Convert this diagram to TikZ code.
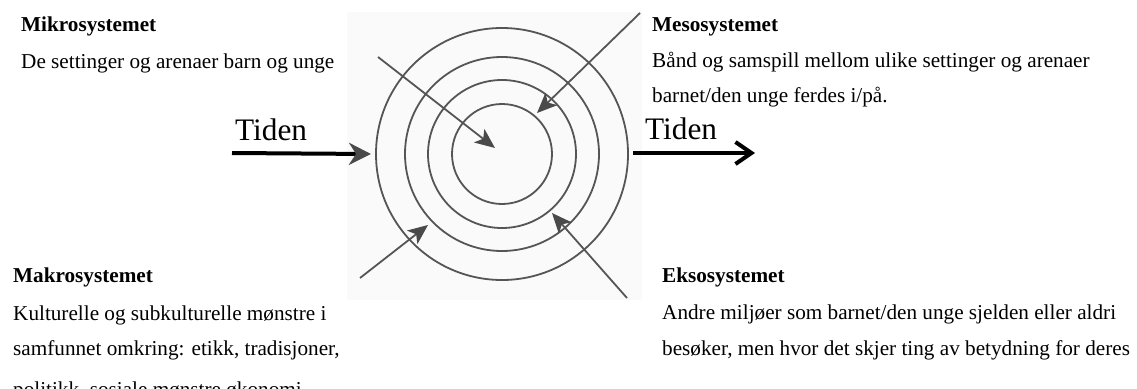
\documentclass[tikz,border=0pt]{standalone}
\usepackage{fontspec}
\setmainfont{Liberation Serif}
\usepackage{tikz}
\usetikzlibrary{arrows.meta}
\definecolor{RingGray}{HTML}{555555}
\definecolor{HeadGray}{HTML}{4A4A4A}
\definecolor{PhotoBg}{HTML}{FAFAFA}

\begin{document}
\begin{tikzpicture}[x=1pt, y=-1pt,
  txt/.style={anchor=base west, inner sep=0pt, font=\fontsize{21.2}{25}\selectfont},
  head/.style={txt, font=\fontsize{21.2}{25}\selectfont\bfseries},
  tid/.style={anchor=base west, inner sep=0pt, font=\fontsize{31.3}{36}\selectfont},
  ring/.style={draw=RingGray, line width=1.8pt},
  pil/.style={draw=RingGray, line width=1.8pt, -{Stealth[length=20pt, width=17pt, inset=5pt, color=HeadGray]}},
  tidpil/.style={line width=4pt}]
\useasboundingbox (0,0) rectangle (1137,388);
\fill[PhotoBg] (347,12) rectangle (642,300);
% ringene
\coordinate (mid) at (502,154);
\draw[ring] (mid) circle[radius=50pt];
\draw[ring] (mid) circle[radius=74pt];
\draw[ring] (mid) circle[radius=97pt];
\draw[ring] (mid) circle[radius=126pt];
% piler inn mot ringene
\coordinate (mikroS) at (378,57);
\coordinate (mikroE) at (495,148);
\coordinate (mesoS) at (640,13);
\coordinate (mesoE) at (537,113);
\coordinate (makroS) at (360,278);
\coordinate (makroE) at (428,225);
\coordinate (eksoS) at (627,298);
\coordinate (eksoE) at (552,213);
\draw[pil] (mikroS) -- (mikroE);
\draw[pil] (mesoS) -- (mesoE);
\draw[pil] (makroS) -- (makroE);
\draw[pil] (eksoS) -- (eksoE);
% tiden
\node[tid] (tidV) at (235,140) {Tiden};
\node[tid] (tidH) at (645,139) {Tiden};
\coordinate (tidVa) at (232,153);
\coordinate (tidVb) at (371,154);
\coordinate (tidHa) at (633,153);
\coordinate (tidHb) at (755,153);
\draw[tidpil, -{Stealth[length=22pt, width=22pt, inset=7pt, color=HeadGray]}] (tidVa) -- (tidVb);
\draw[tidpil, -{Straight Barb[length=16pt, width=22pt]}] (tidHa) -- (tidHb);
% tekstene
\node[head] (mikro) at (21,31) {Mikrosystemet};
\node[txt] (mikro1) at (21,68) {De settinger og arenaer barn og unge};
\node[head] (meso) at (652,31) {Mesosystemet};
\node[txt] (meso1) at (652,67) {Bånd og samspill mellom ulike settinger og arenaer};
\node[txt] (meso2) at (652,102) {barnet/den unge ferdes i/på.};
\node[head] (makro) at (13,282) {Makrosystemet};
\node[txt] (makro1) at (13,320) {Kulturelle og subkulturelle mønstre i};
\node[txt] (makro2) at (13,355) {samfunnet omkring: etikk, tradisjoner,};
\node[txt] (makro3) at (13,396) {politikk, sosiale mønstre økonomi};
\node[head] (ekso) at (662,282) {Eksosystemet};
\node[txt] (ekso1) at (662,319) {Andre miljøer som barnet/den unge sjelden eller aldri};
\node[txt] (ekso2) at (662,355) {besøker, men hvor det skjer ting av betydning for deres};
\end{tikzpicture}
\end{document}
